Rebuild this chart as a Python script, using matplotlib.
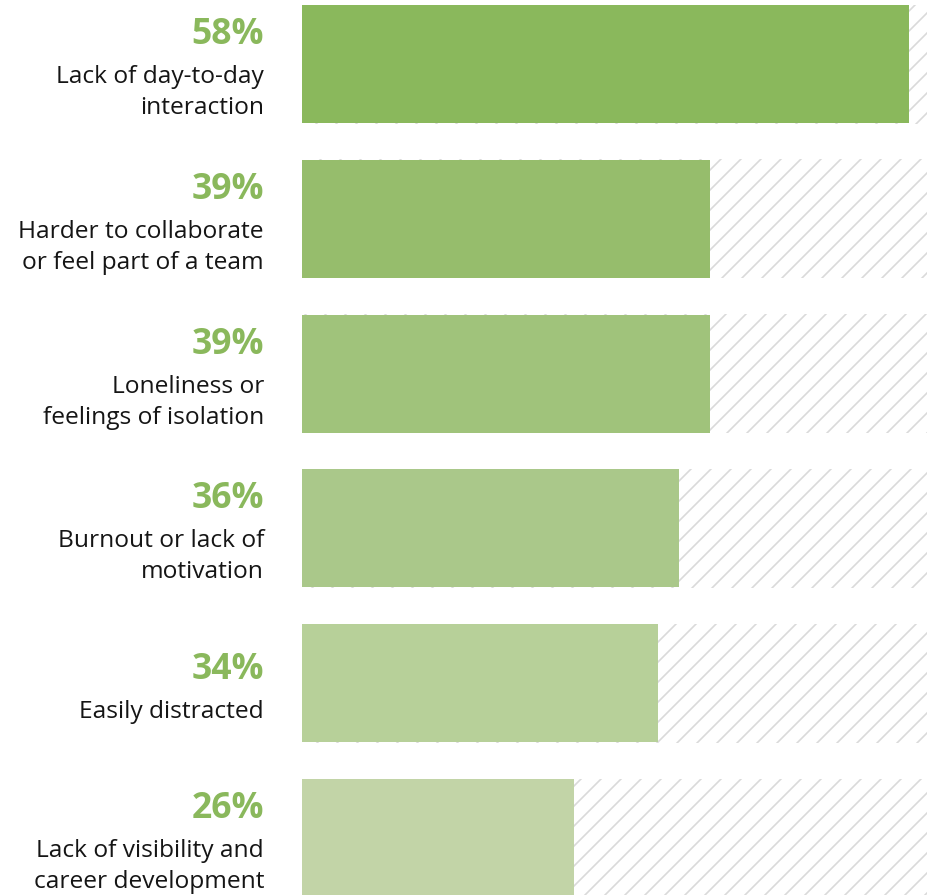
import matplotlib
matplotlib.use("Agg")
import matplotlib.pyplot as plt
import matplotlib.transforms as mtransforms

# Survey results: biggest struggles with remote work
labels = [
    ["Lack of day-to-day", "interaction"],
    ["Harder to collaborate", "or feel part of a team"],
    ["Loneliness or", "feelings of isolation"],
    ["Burnout or lack of", "motivation"],
    ["Easily distracted"],
    ["Lack of visibility and", "career development"],
]
values = [58, 39, 39, 36, 34, 26]
bar_colors = ["#8ab85c", "#96bd6c", "#a0c37b", "#aac88a", "#b7d099", "#c2d4a7"]
track_max = 60

W, H, DPI = 927, 895, 120
plt.rcParams["hatch.linewidth"] = 1.0
plt.rcParams["hatch.color"] = "#dadada"
plt.rcParams["font.family"] = ["Open Sans", "DejaVu Sans"]

fig = plt.figure(figsize=(W / DPI, H / DPI), dpi=DPI)
x0 = 302 / W
ax = fig.add_axes([x0, 0, 1 - x0, 1])

px_per_pct = (909 - 302) / 58.0
row_px = 154.8
bar_h = 118 / row_px
ax.set_xlim(0, (W - 302) / px_per_pct)
top = 64 / row_px
ax.set_ylim((H - 64) / row_px, -top)

ypos = list(range(len(values)))
# hatched track behind each bar
ax.barh(ypos, [track_max] * len(values), height=bar_h + 1.0 / row_px, left=-0.05,
        color="white", edgecolor="#dadada", linewidth=0, hatch="//", zorder=1)
ax.barh(ypos, values, height=bar_h, color=bar_colors, linewidth=0, zorder=2)
ax.axis("off")

trans = mtransforms.blended_transform_factory(fig.transFigure, ax.transData)
text_x = 264 / W
line_gap = 31
for i, (lab, v) in enumerate(zip(labels, values)):
    shift = (2 - len(lab)) * line_gap / 2
    ax.annotate(f"{v}%", xy=(text_x, i), xycoords=trans,
                xytext=(0, 20 - shift), textcoords="offset pixels",
                ha="right", va="baseline", fontsize=21.3, fontweight="bold",
                color="#8ab85c", annotation_clip=False)
    for j, line in enumerate(lab):
        ax.annotate(line, xy=(text_x, i), xycoords=trans,
                    xytext=(0, -19 - shift - j * line_gap), textcoords="offset pixels",
                    ha="right", va="baseline", fontsize=14.7,
                    color="#151515", annotation_clip=False)

fig.savefig("out.png", dpi=DPI)
